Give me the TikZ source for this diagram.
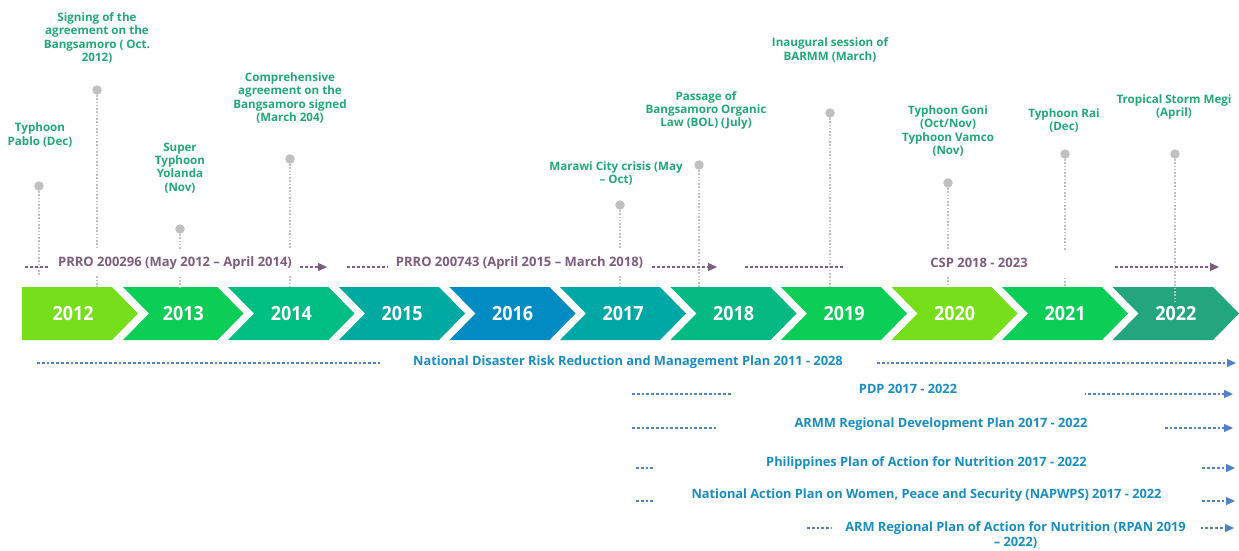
\documentclass[tikz,border=0pt]{standalone}
\usepackage{fontspec}
\setmainfont{Open Sans}
\newfontfamily\yearfont{Open Sans}[FakeStretch=0.92]
\usetikzlibrary{arrows.meta}

\definecolor{evtext}{RGB}{32,168,118}
\definecolor{prrotext}{RGB}{125,92,125}
\definecolor{plantext}{RGB}{24,142,192}
\definecolor{planblue}{RGB}{80,128,198}
\definecolor{pingray}{RGB}{192,192,192}
\definecolor{chlime}{RGB}{118,222,26}
\definecolor{chgreen}{RGB}{12,205,85}
\definecolor{chsea}{RGB}{0,190,130}
\definecolor{chteal}{RGB}{0,170,160}
\definecolor{chblue}{RGB}{0,140,195}
\definecolor{chcyan}{RGB}{0,168,165}
\definecolor{chmint}{RGB}{5,185,130}
\definecolor{chdeep}{RGB}{35,165,125}

\begin{document}
\begin{tikzpicture}[x=1pt,y=-1pt,
  yearlbl/.style={text=white,font=\yearfont\bfseries\fontsize{19.5}{20}\selectfont,inner sep=0pt},
  event/.style={text=evtext,font=\bfseries\fontsize{11.6}{13.3}\selectfont,align=center,inner sep=0pt},
  pin/.style={circle,fill=pingray,draw=none,minimum size=9.5pt,inner sep=0pt},
  stem/.style={draw=pingray,line width=1.6pt,dash pattern=on 1.6pt off 1.7pt},
  prroline/.style={draw=prrotext,line width=1.3pt,dash pattern=on 3pt off 2pt,-{Triangle[length=9pt,width=8pt]}},
  prrobox/.style={fill=white,text=prrotext,font=\bfseries\fontsize{13}{15}\selectfont,inner sep=0pt,minimum height=26pt},
  planline/.style={draw=planblue,line width=1.3pt,dash pattern=on 2.8pt off 2pt,-{Triangle[length=9pt,width=8pt]}},
  planbox/.style={fill=white,text=plantext,font=\bfseries\fontsize{12.8}{15}\selectfont,inner sep=0pt,minimum height=18pt,align=center},
]
\useasboundingbox (0,0) rectangle (1239,550);
\fill[white] (0,0) rectangle (1239,550);

% year chevrons
\fill[chlime] (22,287) -- (112,287) -- (138,313.5) -- (112,340) -- (22,340) -- cycle;
\node[yearlbl] (y2012) at (73,313.5) {2012};
\foreach \L/\R/\c/\yr in {123/217.5/chgreen/2013, 228/328.5/chsea/2014,
    339/439/chteal/2015, 449.5/549.5/chblue/2016, 560/660/chcyan/2017,
    670.5/770.5/chmint/2018, 781/881/chgreen/2019, 891.5/991.5/chlime/2020,
    1002/1102/chgreen/2021, 1112.5/1213/chdeep/2022}{
  \fill[\c] (\L,287) -- (\R,287) -- ({\R+26},313.5) -- (\R,340) -- (\L,340) -- ({\L+26},313.5) -- cycle;
  \node[yearlbl] (y\yr) at ({(\L+\R+26)/2},313.5) {\yr};
}

% event pins and captions
\node[pin] (pablo) at (39,186) {};
\node[event] (pablo-t) at (40,135) {Typhoon\\Pablo (Dec)};
\coordinate (pablo-f) at (39,276);

\node[pin] (signing) at (97,90) {};
\node[event] (signing-t) at (97,38) {Signing of the\\agreement on the\\Bangsamoro ( Oct.\\2012)};
\coordinate (signing-f) at (97,287);

\node[pin] (yolanda) at (180,229) {};
\node[event] (yolanda-t) at (180,168) {Super\\Typhoon\\Yolanda\\(Nov)};
\coordinate (yolanda-f) at (180,287);

\node[pin] (cab) at (290,159) {};
\node[event] (cab-t) at (290,98) {Comprehensive\\agreement on the\\Bangsamoro signed\\(March 204)};
\coordinate (cab-f) at (290,287);

\node[pin] (marawi) at (620,205) {};
\node[event] (marawi-t) at (616,173.5) {Marawi City crisis (May\\– Oct)};
\coordinate (marawi-f) at (620,287);

\node[pin] (bol) at (699,165) {};
\node[event] (bol-t) at (706,110.5) {Passage of\\Bangsamoro Organic\\Law (BOL) (July)};
\coordinate (bol-f) at (699,287);

\node[pin] (barmm) at (830,113) {};
\node[event] (barmm-t) at (830,50) {Inaugural session of\\BARMM (March)};
\coordinate (barmm-f) at (830,287);

\node[pin] (goni) at (948,183) {};
\node[event] (goni-t) at (948,131) {Typhoon Goni\\(Oct/Nov)\\Typhoon Vamco\\(Nov)};
\coordinate (goni-f) at (948,287);

\node[pin] (rai) at (1065,154) {};
\node[event] (rai-t) at (1064,120.5) {Typhoon Rai\\(Dec)};
\coordinate (rai-f) at (1065,287);

\node[pin] (megi) at (1175,154) {};
\node[event] (megi-t) at (1174,107) {Tropical Storm Megi\\(April)};
\coordinate (megi-f) at (1175,303);

\foreach \e in {pablo,signing,yolanda,cab,marawi,bol,barmm,goni,rai,megi}
  \draw[stem] (\e.south) -- (\e-f);

% programme periods
\coordinate (r1s) at (25,267);   \coordinate (r1e) at (327,267);
\coordinate (r2s) at (347,267);  \coordinate (r2e) at (717,267);
\coordinate (r3s) at (745,267);  \coordinate (r3e) at (1219,267);
\draw[prroline] (r1s) -- (r1e);
\draw[prroline] (r2s) -- (r2e);
\draw[prroline] (r3s) -- (r3e);
\node[prrobox,minimum width=250pt] (prro1) at (175,263) {PRRO 200296 (May 2012 – April 2014)};
\node[prrobox,minimum width=263pt] (prro2) at (519.5,263) {PRRO 200743 (April 2015 – March 2018)};
\node[prrobox,minimum width=268pt] (csp) at (979,263) {CSP 2018 - 2023};

% national and regional plans
\coordinate (n1s) at (37,363);  \coordinate (n1e) at (1236,363);
\coordinate (n2s) at (632,394); \coordinate (n2e) at (1233,394);
\coordinate (n3s) at (632,428); \coordinate (n3e) at (1233,428);
\coordinate (n4s) at (636,468); \coordinate (n4e) at (1235,468);
\coordinate (n5s) at (636,501); \coordinate (n5e) at (1235,501);
\coordinate (n6s) at (807,528); \coordinate (n6e) at (1234,528);
\foreach \i in {1,...,6}
  \draw[planline] (n\i s) -- (n\i e);
\node[planbox,minimum width=496pt] (ndrrmp) at (628,362) {National Disaster Risk Reduction and Management Plan 2011 - 2028};
\node[planbox,minimum width=354pt] (pdp) at (908,389) {PDP 2017 - 2022};
\node[planbox,minimum width=448pt] (armm) at (941,424) {ARMM Regional Development Plan 2017 - 2022};
\node[planbox,minimum width=547pt] (ppan) at (926.5,463) {Philippines Plan of Action for Nutrition 2017 - 2022};
\node[planbox,minimum width=547pt] (napwps) at (926.5,495) {National Action Plan on Women, Peace and Security (NAPWPS) 2017 - 2022};
\node[planbox,minimum width=367pt] (rpan) at (1015.5,535.5) {ARM Regional Plan of Action for Nutrition (RPAN 2019\\– 2022)};
\end{tikzpicture}
\end{document}
